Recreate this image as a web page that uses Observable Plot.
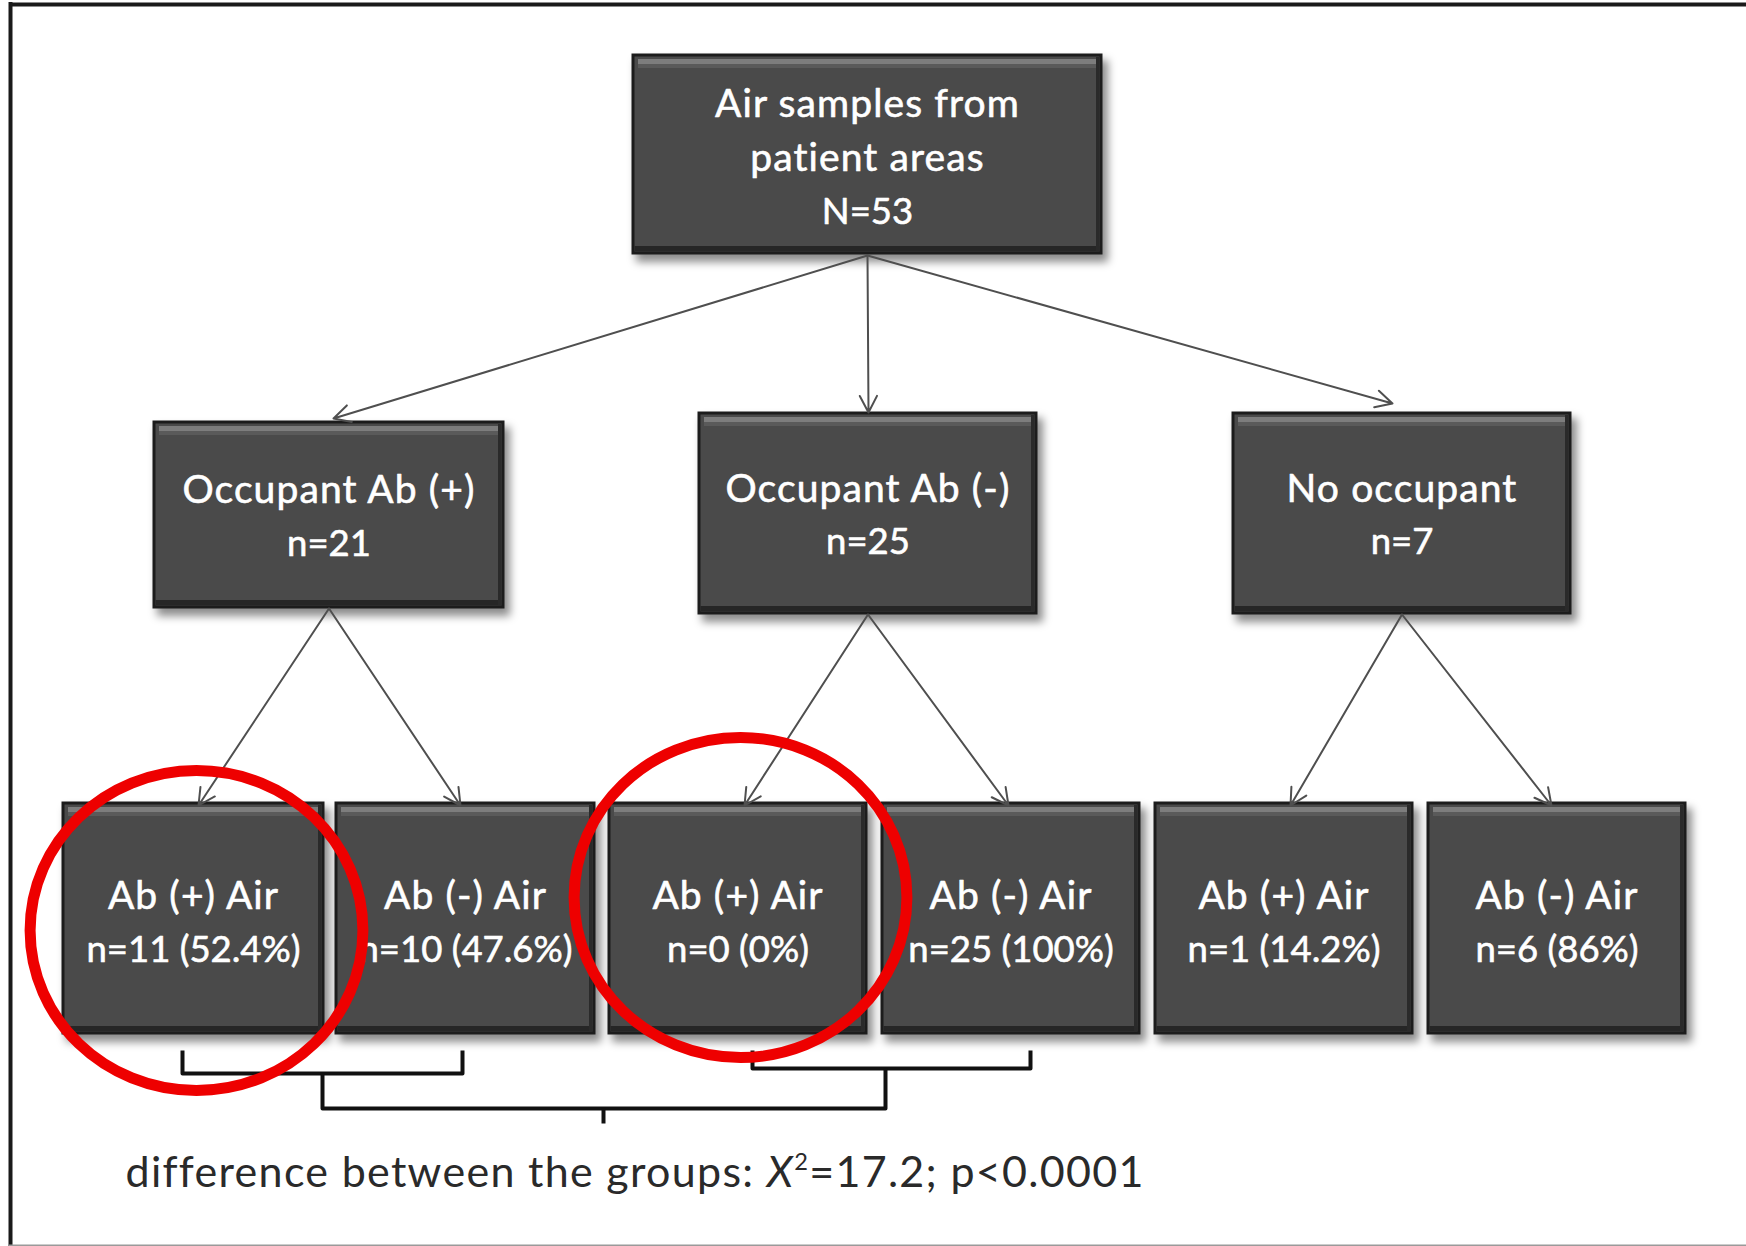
<!DOCTYPE html>
<html><head><meta charset="utf-8">
<script src="https://cdn.jsdelivr.net/npm/d3@7"></script>
<script src="https://cdn.jsdelivr.net/npm/@observablehq/plot@0.6"></script>
<style>
html,body{margin:0;padding:0;background:#fff;}
#chart svg{display:block}
</style></head><body><div id="chart"></div>
<script>
// ---------- data ----------
const rootLabel = ["Air samples from", "patient areas"];
const rootN = 53;
const groupLabels = ["Occupant Ab (+)", "Occupant Ab (-)", "No occupant"];
const groupN = [21, 25, 7];
const airLabels = ["Ab (+) Air", "Ab (-) Air", "Ab (+) Air", "Ab (-) Air", "Ab (+) Air", "Ab (-) Air"];
const airN = [11, 10, 0, 25, 1, 6];
const airPct = ["52.4%", "47.6%", "0%", "100%", "14.2%", "86%"];
const airParent = [0, 0, 1, 1, 2, 2];
const highlighted = [0, 2];
const chiSquare = 17.2;
const pValue = "p<0.0001";

// ---------- layout (pixels) ----------
const W = 1746, H = 1246;
const rootBox = {x1: 633, x2: 1101, y1: 55, y2: 253};
const groupBoxes = [
  {x1: 154, x2: 503, y1: 422, y2: 607},
  {x1: 699, x2: 1036, y1: 413, y2: 613},
  {x1: 1233, x2: 1570, y1: 413, y2: 613}
];
const airCols = [[63, 323], [336, 594], [609, 866], [882, 1139], [1155, 1412], [1428, 1685]];
const airRow = [803, 1033];
const rootArrowTips = [[333, 418], [868, 412], [1392, 403]];
const airArrowTipX = [198, 460, 744, 1008, 1290, 1551];
const circleCenters = [[196, 930], [740, 897]];
const bracketLayout = {
  pairs: [[182, 462, 1050, 1073], [752, 1030, 1050, 1068]],
  join: [322, 885, 1108],
  stem: [603, 1123]
};

// ---------- build tables ----------
const cx = b => (b.x1 + b.x2) / 2;
const cy = b => (b.y1 + b.y2) / 2;
const boxes = [
  {...rootBox},
  ...groupBoxes.map(b => ({...b})),
  ...airCols.map(c => ({x1: c[0], x2: c[1], y1: airRow[0], y2: airRow[1]}))
];

const textLines = [
  ...rootLabel.map((t, i) => ({x: cx(rootBox), y: rootBox.y1 + 49 + 54 * i, text: t, kind: "label"})),
  {x: cx(rootBox), y: rootBox.y1 + 157, text: `N=${rootN}`, kind: "count"},
  ...groupBoxes.flatMap((b, i) => [
    {x: cx(b), y: cy(b) - 24, text: groupLabels[i], kind: "label"},
    {x: cx(b), y: cy(b) + 29, text: `n=${groupN[i]}`, kind: "count"}
  ]),
  ...airLabels.flatMap((l, i) => [
    {x: (airCols[i][0] + airCols[i][1]) / 2, y: (airRow[0] + airRow[1]) / 2 - 22, text: l, kind: "label"},
    {x: (airCols[i][0] + airCols[i][1]) / 2, y: (airRow[0] + airRow[1]) / 2 + 32, text: `n=${airN[i]} (${airPct[i]})`, kind: "count"}
  ])
];
const labelSet = new Set(textLines.filter(d => d.kind === "label").map(d => d.text));

const links = [
  ...groupBoxes.map((b, i) => ({x1: cx(rootBox), y1: rootBox.y2 + 2, x2: rootArrowTips[i][0], y2: rootArrowTips[i][1]})),
  ...airParent.map((p, i) => ({x1: cx(groupBoxes[p]), y1: groupBoxes[p].y2 + 1, x2: airArrowTipX[i], y2: airRow[0] + 2}))
];

const bracketPts = [];
bracketLayout.pairs.forEach(([a, b, top, bot], k) => {
  bracketPts.push({id: k, x: a, y: top}, {id: k, x: a, y: bot}, {id: k, x: b, y: bot}, {id: k, x: b, y: top});
});
const [ja, jb, jy] = bracketLayout.join;
bracketPts.push({id: 2, x: ja, y: bracketLayout.pairs[0][3]}, {id: 2, x: ja, y: jy},
  {id: 2, x: jb, y: jy}, {id: 2, x: jb, y: bracketLayout.pairs[1][3]});
bracketPts.push({id: 3, x: bracketLayout.stem[0], y: jy}, {id: 3, x: bracketLayout.stem[0], y: bracketLayout.stem[1]});

const caption = `difference between the groups: X2=${chiSquare}; ${pValue}`;

// ellipse symbol (slightly wider than tall)
const ellipse = {
  draw(ctx, size) {
    const r = Math.sqrt(size / Math.PI), rx = r * 1.04, ry = r, k = 0.5523;
    ctx.moveTo(rx, 0);
    ctx.bezierCurveTo(rx, ry * k, rx * k, ry, 0, ry);
    ctx.bezierCurveTo(-rx * k, ry, -rx, ry * k, -rx, 0);
    ctx.bezierCurveTo(-rx, -ry * k, -rx * k, -ry, 0, -ry);
    ctx.bezierCurveTo(rx * k, -ry, rx, -ry * k, rx, 0);
    ctx.closePath();
  }
};

const plot = Plot.plot({
  width: W, height: H, margin: 0,
  x: {domain: [0, W], range: [0, W], axis: null},
  y: {domain: [0, H], range: [0, H], axis: null},
  style: {background: "white", fontFamily: "Lato, 'Open Sans', sans-serif"},
  marks: [
    // shadows
    Plot.rect(boxes, {x1: d => d.x1 + 3, x2: d => d.x2 + 7, y1: d => d.y1 + 5, y2: d => d.y2 + 9, fill: "#000", fillOpacity: 0.45}),
    // box body
    Plot.rect(boxes, {x1: "x1", x2: "x2", y1: "y1", y2: "y2", fill: "#4a4a4a", stroke: "#1c1c1c", strokeWidth: 3}),
    // top highlight
    Plot.rect(boxes, {x1: d => d.x1 + 5, x2: d => d.x2 - 5, y1: d => d.y1 + 4, y2: d => d.y1 + 9, fill: "#8a8a8a", fillOpacity: 0.8}),
    Plot.rect(boxes, {x1: d => d.x1 + 5, x2: d => d.x2 - 5, y1: d => d.y1 + 9, y2: d => d.y1 + 13, fill: "#6a6a6a", fillOpacity: 0.5}),
    // bottom/right dark edges
    Plot.rect(boxes, {x1: d => d.x1 + 1.5, x2: d => d.x2 - 1.5, y1: d => d.y2 - 7, y2: d => d.y2 - 1.5, fill: "#262626"}),
    Plot.rect(boxes, {x1: d => d.x2 - 5, x2: d => d.x2 - 1.5, y1: d => d.y1 + 2, y2: d => d.y2 - 1.5, fill: "#2a2a2a"}),
    // box labels
    Plot.text(textLines.filter(d => d.kind === "label"), {x: "x", y: "y", text: "text", fill: "white", stroke: "white", strokeWidth: 0.6,
      fontSize: 39, lineAnchor: "middle"}),
    Plot.text(textLines.filter(d => d.kind === "count"), {x: "x", y: "y", text: "text", fill: "white", stroke: "white", strokeWidth: 0.6,
      fontSize: 36.5, lineAnchor: "middle"}),
    // arrows
    Plot.arrow(links, {x1: "x1", y1: "y1", x2: "x2", y2: "y2", stroke: "#4f4f4f", strokeWidth: 2, headLength: 14, headAngle: 55}),
    // brackets
    Plot.line(bracketPts, {x: "x", y: "y", z: "id", stroke: "#111", strokeWidth: 4, strokeLinejoin: "round", strokeLinecap: "butt"}),
    // caption
    Plot.text([caption], {x: 125, y: 1173, text: d => d, textAnchor: "start", lineAnchor: "middle", fontSize: 43, fill: "#2a2a2a"}),
    // highlight circles
    Plot.dot(highlighted, {x: i => circleCenters[highlighted.indexOf(i)][0], y: i => circleCenters[highlighted.indexOf(i)][1],
      r: 160, symbol: ellipse, fill: "none", stroke: "#ee0000", strokeWidth: 11}),
    // frame
    Plot.ruleY([4], {x1: 9, x2: W, stroke: "#1a1a1a", strokeWidth: 4}),
    Plot.ruleX([10], {y1: 2, y2: H, stroke: "#1a1a1a", strokeWidth: 4}),
    Plot.ruleY([1245], {x1: 9, x2: W, stroke: "#9a9a9a", strokeWidth: 2})
  ]
});

// soft shadow filter
const ns = "http://www.w3.org/2000/svg";
const defs = document.createElementNS(ns, "defs");
defs.innerHTML = `<filter id="soft" x="-10%" y="-10%" width="130%" height="140%"><feGaussianBlur stdDeviation="4"/></filter>`;
plot.insertBefore(defs, plot.firstChild);
plot.querySelector('g[aria-label="rect"]').setAttribute("filter", "url(#soft)");

plot.querySelectorAll("text").forEach(t => {
  if (labelSet.has(t.textContent)) t.setAttribute("letter-spacing", "1.1");
  if (t.textContent === caption) {
    // caption rich text: italic X with superscript 2
    const [pre, post] = caption.split("X2");
    t.textContent = "";
    t.setAttribute("letter-spacing", "1.3");
    const add = (s, attrs) => { const ts = document.createElementNS(ns, "tspan"); ts.textContent = s;
      for (const k in attrs) ts.setAttribute(k, attrs[k]); t.appendChild(ts); };
    add(pre, {});
    add("X", {"font-style": "italic"});
    add("2", {"font-size": "55%", "dy": "-0.75em"});
    add(post, {"dy": "0.41em"});
  }
});

document.getElementById("chart").appendChild(plot);
</script>
</body></html>
